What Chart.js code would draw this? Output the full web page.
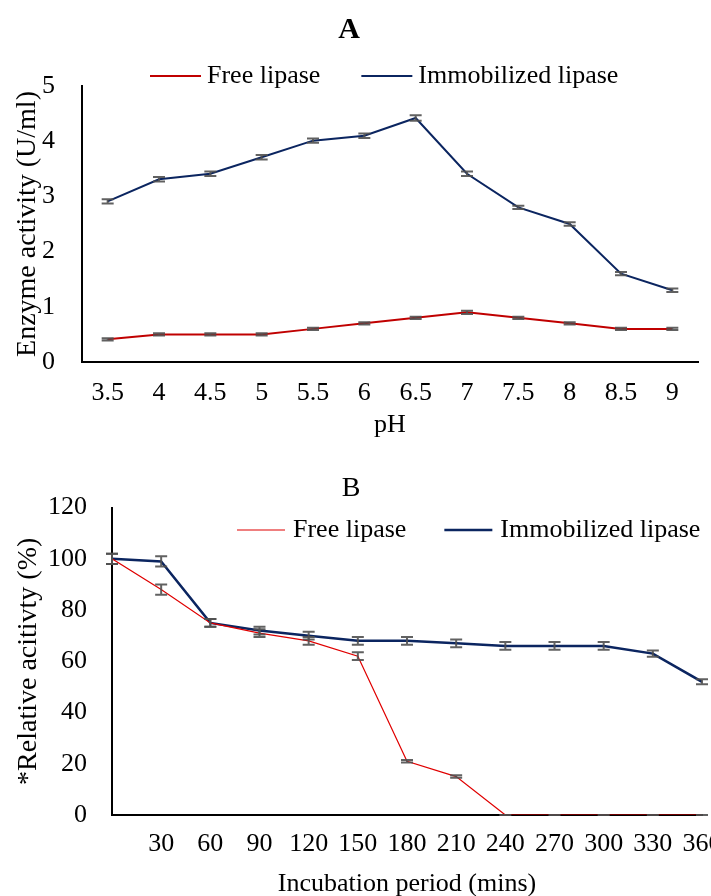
<!DOCTYPE html>
<html>
<head>
<meta charset="utf-8">
<script src="https://cdn.jsdelivr.net/npm/chart.js@4.4.1/dist/chart.umd.min.js"></script>
<style>
  html, body { margin: 0; padding: 0; background: #fff; overflow: hidden; }
  #wrapA { position: absolute; left: 0; top: 0; width: 711px; height: 450px; }
  #wrapB { position: absolute; left: 0; top: 450px; width: 711px; height: 460px; }
</style>
</head>
<body>
<div id="wrapA"><canvas id="chartA"></canvas></div>
<div id="wrapB"><canvas id="chartB"></canvas></div>
<script>
// Panel A - effect of pH
const phLabels = ['3.5', '4', '4.5', '5', '5.5', '6', '6.5', '7', '7.5', '8', '8.5', '9'];
const freeActivity = [0.41, 0.5, 0.5, 0.5, 0.6, 0.7, 0.8, 0.9, 0.8, 0.7, 0.6, 0.6];
const freeActivityErr = [0.02, 0.02, 0.02, 0.02, 0.02, 0.02, 0.02, 0.03, 0.02, 0.02, 0.02, 0.02];
const immobActivity = [2.91, 3.31, 3.41, 3.71, 4.01, 4.1, 4.42, 3.41, 2.8, 2.5, 1.6, 1.3];
const immobActivityErr = [0.04, 0.04, 0.04, 0.04, 0.04, 0.04, 0.05, 0.04, 0.03, 0.03, 0.03, 0.03];

// Panel B - thermal stability over time
const timeMins = [0, 30, 60, 90, 120, 150, 180, 210, 240, 270, 300, 330, 360];
const freeRelative = [100, 88, 75, 71, 68, 62, 21, 15, 0, 0, 0, 0, 0];
const freeRelativeErr = [2, 2, 1.5, 1.5, 1.5, 1.5, 0.5, 0.5, 0, 0, 0, 0, 0];
const immobRelative = [100, 99, 75, 72, 70, 68, 68, 67, 66, 66, 66, 63, 52];
const immobRelativeErr = [2, 2, 1.5, 1.5, 1.5, 1.5, 1.5, 1.5, 1.5, 1.5, 1.5, 1.2, 1];

const RED = '#c00000';
const NAVY = '#0b2560';

Chart.defaults.font.family = "'Liberation Serif', 'Times New Roman', serif";
Chart.defaults.color = '#000';

// error bars drawn from each dataset's "errors" array
const errorBars = {
  id: 'errorBars',
  afterDatasetsDraw(chart, args, opts) {
    const ctx = chart.ctx;
    const y = chart.scales.y;
    ctx.save();
    ctx.strokeStyle = opts.color;
    ctx.lineWidth = opts.width;
    chart.data.datasets.forEach((ds, i) => {
      if (!ds.errors) return;
      chart.getDatasetMeta(i).data.forEach((pt, j) => {
        const d = ds.data[j];
        const v = typeof d === 'object' ? d.y : d;
        const e = ds.errors[j];
        const top = y.getPixelForValue(v + e);
        const bot = y.getPixelForValue(v - e);
        const c = opts.cap;
        ctx.beginPath();
        ctx.moveTo(pt.x, top); ctx.lineTo(pt.x, bot);
        ctx.moveTo(pt.x - c, top); ctx.lineTo(pt.x + c, top);
        ctx.moveTo(pt.x - c, bot); ctx.lineTo(pt.x + c, bot);
        ctx.stroke();
      });
    });
    ctx.restore();
  }
};

// simple line-sample legend
const lineLegend = {
  id: 'lineLegend',
  afterDraw(chart, args, opts) {
    const ctx = chart.ctx;
    ctx.save();
    ctx.font = opts.size + "px 'Liberation Serif', 'Times New Roman', serif";
    ctx.textBaseline = 'middle';
    ctx.textAlign = 'left';
    let x = opts.x;
    chart.data.datasets.forEach(ds => {
      ctx.strokeStyle = ds.borderColor;
      ctx.lineWidth = ds.legendWidth || ds.borderWidth;
      ctx.beginPath();
      ctx.moveTo(x, opts.y);
      ctx.lineTo(x + opts.lineLen, opts.y);
      ctx.stroke();
      const tx = x + opts.lineLen + opts.gap;
      ctx.fillStyle = '#000';
      ctx.fillText(ds.label, tx, opts.y);
      x = tx + ctx.measureText(ds.label).width + opts.spacing;
    });
    ctx.restore();
  }
};

function fixWidth(w) { return s => { s.width = w; }; }
function fixHeight(h) { return s => { s.height = h; s.paddingLeft = 0; s.paddingRight = 0; }; }

new Chart(document.getElementById('chartA'), {
  type: 'line',
  data: {
    labels: phLabels,
    datasets: [
      { label: 'Free lipase', data: freeActivity, errors: freeActivityErr,
        borderColor: RED, borderWidth: 2, pointRadius: 0, tension: 0 },
      { label: 'Immobilized lipase', data: immobActivity, errors: immobActivityErr,
        borderColor: NAVY, borderWidth: 2, pointRadius: 0, tension: 0 }
    ]
  },
  options: {
    responsive: true,
    maintainAspectRatio: false,
    animation: false,
    layout: { padding: { left: 0, right: 13, top: 0, bottom: 0 } },
    plugins: {
      legend: { display: false },
      tooltip: { enabled: false },
      title: { display: true, text: 'A', color: '#000',
        font: { size: 30, weight: 'bold' }, padding: { top: 12, bottom: 38 } },
      errorBars: { color: 'rgba(80,80,80,0.9)', width: 2, cap: 6 },
      lineLegend: { x: 150, y: 76, lineLen: 51, gap: 6, spacing: 41, size: 26 }
    },
    scales: {
      x: {
        offset: true,
        afterFit: fixHeight(88),
        grid: { display: false, drawTicks: false },
        border: { display: true, color: '#000', width: 2 },
        ticks: { font: { size: 26 }, padding: 16, maxRotation: 0, autoSkip: false },
        title: { display: true, text: 'pH', font: { size: 26 }, padding: { top: 0, bottom: 9 } }
      },
      y: {
        min: 0, max: 5,
        afterFit: fixWidth(82),
        grid: { display: false, drawTicks: false },
        border: { display: true, color: '#000', width: 2 },
        ticks: { stepSize: 1, font: { size: 26 }, padding: 27 },
        title: { display: true, text: 'Enzyme activity (U/ml)', font: { size: 28 }, padding: { top: 11, bottom: 0 } }
      }
    }
  },
  plugins: [errorBars, lineLegend]
});

new Chart(document.getElementById('chartB'), {
  type: 'line',
  data: {
    datasets: [
      { label: 'Free lipase', data: timeMins.map((t, i) => ({ x: t, y: freeRelative[i] })),
        errors: freeRelativeErr, borderColor: '#e00000', borderWidth: 1.2, legendWidth: 1.2,
        pointRadius: 0, tension: 0 },
      { label: 'Immobilized lipase', data: timeMins.map((t, i) => ({ x: t, y: immobRelative[i] })),
        errors: immobRelativeErr, borderColor: NAVY, borderWidth: 2.5,
        pointRadius: 0, tension: 0 }
    ]
  },
  options: {
    responsive: true,
    maintainAspectRatio: false,
    animation: false,
    layout: { padding: { left: 0, right: 9, top: 0, bottom: 0 } },
    plugins: {
      legend: { display: false },
      tooltip: { enabled: false },
      title: { display: true, text: 'B', color: '#000',
        font: { size: 28, weight: 'normal' }, padding: { top: 22, bottom: 2 } },
      errorBars: { color: 'rgba(80,80,80,0.9)', width: 2, cap: 6 },
      lineLegend: { x: 237, y: 80, lineLen: 48, gap: 8, spacing: 38, size: 26 }
    },
    scales: {
      x: {
        type: 'linear',
        min: 0, max: 360,
        afterFit: fixHeight(95),
        grid: { display: false, drawTicks: false },
        border: { display: true, color: '#000', width: 2 },
        ticks: { stepSize: 30, font: { size: 26 }, padding: 14, maxRotation: 0, autoSkip: false,
          callback: v => (v === 0 ? '' : v) },
        title: { display: true, text: 'Incubation period (mins)', font: { size: 26 }, padding: { top: 0, bottom: 10 } }
      },
      y: {
        min: 0, max: 120,
        afterFit: fixWidth(112),
        grid: { display: false, drawTicks: false },
        border: { display: true, color: '#000', width: 2 },
        ticks: { stepSize: 20, font: { size: 26 }, padding: 25 },
        title: { display: true, text: '*Relative acitivty (%)', font: { size: 28 }, padding: { top: 12, bottom: 0 } }
      }
    }
  },
  plugins: [errorBars, lineLegend]
});
</script>
</body>
</html>
